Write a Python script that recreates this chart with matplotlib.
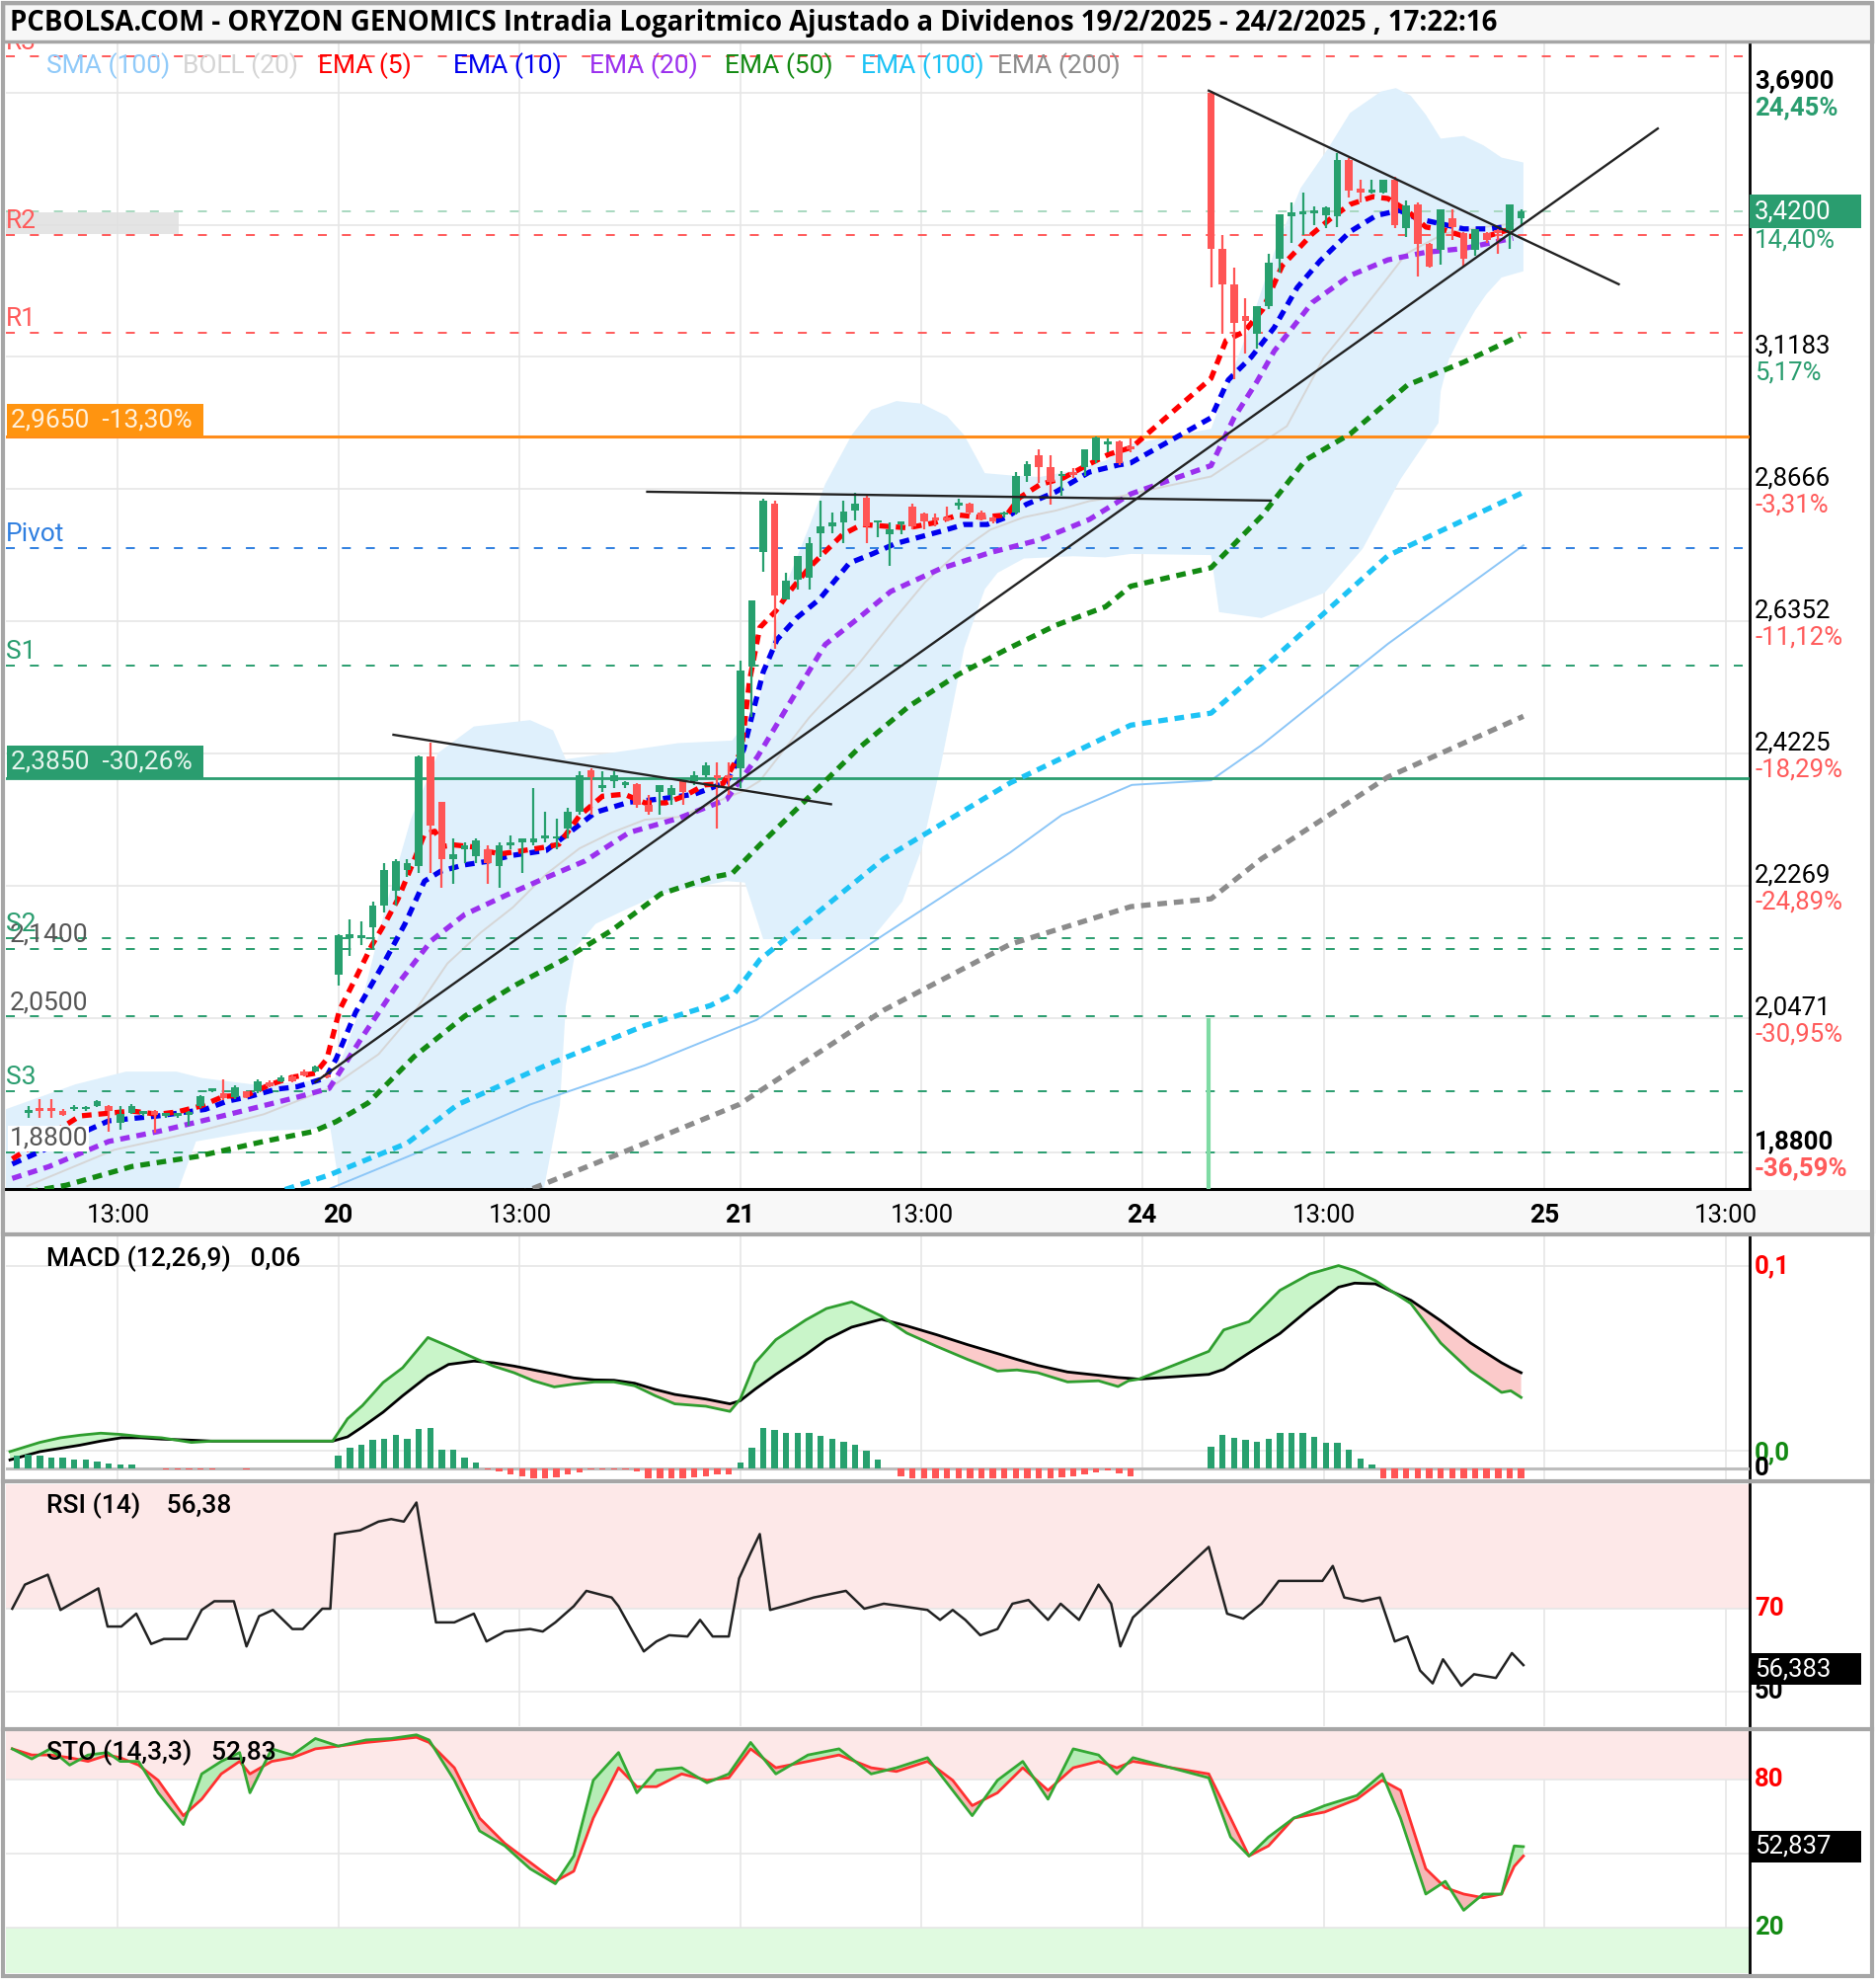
import numpy as np
import matplotlib
matplotlib.use('Agg')
import matplotlib.pyplot as plt
import matplotlib.transforms as mtransforms
from matplotlib.patches import Rectangle
from matplotlib.lines import Line2D
from matplotlib.ticker import NullLocator

plt.rcParams['font.family'] = ['Roboto', 'DejaVu Sans']
plt.rcParams['lines.scale_dashes'] = False

# x axis = 15 minute slots; day 19 opens at slot 0, 20 at 35, 21 at 70, 24 at 105
day_start = [0, 35, 70, 105, 140]
day_names = ['', '20', '21', '24', '25']

# ---------------- candles (OHLC) ----------------
k19 = list(range(8, 35))
o19 = [1.928, 1.932, 1.932, 1.930, 1.932, 1.932, 1.936, 1.936, 1.915, 1.928, 1.926, 1.930, 1.924, 1.924,
       1.925, 1.936, 1.955, 1.952, 1.947, 1.954, 1.955, 1.966, 1.967, 1.973, 1.979, 1.979, 1.976]
h19 = [1.936, 1.945, 1.945, 1.932, 1.937, 1.936, 1.943, 1.937, 1.936, 1.938, 1.929, 1.931, 1.926, 1.928,
       1.930, 1.950, 1.958, 1.969, 1.962, 1.955, 1.969, 1.968, 1.974, 1.976, 1.982, 1.987, 1.978]
l19 = [1.922, 1.922, 1.922, 1.924, 1.930, 1.930, 1.935, 1.905, 1.907, 1.926, 1.924, 1.904, 1.922, 1.922,
       1.912, 1.934, 1.953, 1.944, 1.945, 1.946, 1.952, 1.960, 1.966, 1.966, 1.973, 1.978, 1.970]
c19 = [1.930, 1.930, 1.930, 1.925, 1.935, 1.934, 1.942, 1.930, 1.926, 1.936, 1.928, 1.925, 1.925, 1.927,
       1.928, 1.948, 1.956, 1.946, 1.960, 1.947, 1.967, 1.961, 1.972, 1.967, 1.974, 1.985, 1.972]

k20 = list(range(35, 70))
o20 = [2.105, 2.155, 2.155, 2.170, 2.200, 2.220, 2.250, 2.255, 2.418, 2.350, 2.265, 2.280, 2.270, 2.280,
       2.255, 2.285, 2.290, 2.290, 2.295, 2.295, 2.310, 2.335, 2.397, 2.370, 2.380, 2.375, 2.376, 2.345,
       2.365, 2.360, 2.380, 2.380, 2.390, 2.390, 2.390]
h20 = [2.160, 2.180, 2.177, 2.205, 2.260, 2.265, 2.265, 2.420, 2.440, 2.350, 2.295, 2.290, 2.295, 2.285,
       2.290, 2.300, 2.295, 2.370, 2.335, 2.325, 2.340, 2.395, 2.400, 2.395, 2.395, 2.380, 2.378, 2.360,
       2.375, 2.375, 2.380, 2.395, 2.410, 2.410, 2.410]
l20 = [2.090, 2.130, 2.145, 2.140, 2.190, 2.200, 2.240, 2.245, 2.245, 2.225, 2.230, 2.260, 2.260, 2.230,
       2.225, 2.280, 2.245, 2.285, 2.290, 2.280, 2.295, 2.330, 2.330, 2.365, 2.370, 2.370, 2.340, 2.330,
       2.330, 2.345, 2.345, 2.375, 2.387, 2.310, 2.360]
c20 = [2.159, 2.160, 2.158, 2.200, 2.250, 2.262, 2.260, 2.418, 2.315, 2.265, 2.272, 2.285, 2.293, 2.260,
       2.285, 2.290, 2.295, 2.295, 2.300, 2.298, 2.335, 2.390, 2.387, 2.375, 2.390, 2.378, 2.345, 2.335,
       2.374, 2.370, 2.365, 2.390, 2.405, 2.385, 2.385]

k21 = list(range(70, 105))
o21 = [2.400, 2.560, 2.755, 2.840, 2.672, 2.706, 2.710, 2.787, 2.800, 2.806, 2.828, 2.852, 2.806, 2.785,
       2.803, 2.835, 2.822, 2.815, 2.815, 2.837, 2.840, 2.825, 2.815, 2.820, 2.825, 2.890, 2.930, 2.907,
       2.890, 2.895, 2.907, 2.920, 2.950, 2.955, 2.945]
h21 = [2.570, 2.670, 2.850, 2.846, 2.718, 2.748, 2.780, 2.846, 2.825, 2.846, 2.860, 2.855, 2.810, 2.807,
       2.806, 2.840, 2.825, 2.823, 2.835, 2.850, 2.842, 2.828, 2.818, 2.826, 2.898, 2.918, 2.940, 2.930,
       2.900, 2.905, 2.940, 2.965, 2.960, 2.957, 2.960]
l21 = [2.370, 2.480, 2.720, 2.590, 2.672, 2.690, 2.690, 2.745, 2.787, 2.770, 2.810, 2.770, 2.780, 2.730,
       2.785, 2.795, 2.795, 2.800, 2.808, 2.830, 2.820, 2.810, 2.805, 2.815, 2.820, 2.880, 2.878, 2.838,
       2.855, 2.888, 2.890, 2.915, 2.935, 2.910, 2.935]
c21 = [2.555, 2.670, 2.845, 2.680, 2.705, 2.747, 2.770, 2.800, 2.806, 2.827, 2.840, 2.800, 2.808, 2.795,
       2.805, 2.800, 2.808, 2.810, 2.810, 2.843, 2.825, 2.812, 2.808, 2.825, 2.890, 2.913, 2.907, 2.880,
       2.895, 2.893, 2.940, 2.962, 2.952, 2.915, 2.940]

k24 = list(range(111, 139))
o24 = [3.690, 3.340, 3.265, 3.200, 3.165, 3.220, 3.320, 3.410, 3.415, 3.416, 3.413, 3.410, 3.535, 3.470,
       3.462, 3.462, 3.490, 3.385, 3.437, 3.350, 3.338, 3.405, 3.375, 3.338, 3.375, 3.380, 3.380, 3.405]
h24 = [3.694, 3.370, 3.300, 3.237, 3.220, 3.330, 3.415, 3.440, 3.462, 3.432, 3.432, 3.550, 3.540, 3.490,
       3.490, 3.490, 3.497, 3.444, 3.440, 3.352, 3.425, 3.425, 3.377, 3.383, 3.377, 3.383, 3.437, 3.425]
l24 = [3.260, 3.165, 3.075, 3.125, 3.135, 3.215, 3.290, 3.352, 3.370, 3.390, 3.384, 3.387, 3.452, 3.440,
       3.459, 3.459, 3.384, 3.365, 3.282, 3.300, 3.307, 3.360, 3.303, 3.325, 3.352, 3.330, 3.340, 3.390]
c24 = [3.340, 3.265, 3.187, 3.190, 3.220, 3.310, 3.415, 3.418, 3.422, 3.423, 3.430, 3.535, 3.466, 3.462,
       3.468, 3.490, 3.390, 3.433, 3.350, 3.303, 3.425, 3.387, 3.320, 3.383, 3.360, 3.373, 3.437, 3.420]

# ---------------- overlays (slot, price) ----------------
ema5_k = [6.6, 12.5, 17.0, 19.3, 21.0, 23.0, 25.0, 27.1, 29.1, 31.0, 33.0, 34.0, 35.1, 36.5, 37.9, 39.1,
          40.2, 41.6, 42.5, 43.4, 44.2, 45.1, 46.8, 47.9, 49.1, 50.8, 53.1, 54.2, 56.0, 58.0, 59.9, 61.7,
          63.5, 65.1, 66.9, 68.5, 70.1, 70.8, 71.7, 73.1, 74.3, 76.0, 77.4, 78.9, 80.6, 82.6, 84.6, 86.9,
          89.0, 90.9, 93.2, 94.3, 96.1, 98.1, 100.4, 102.1, 104.1, 111.0, 112.3, 113.9, 115.5, 117.2, 118.5,
          119.8, 121.5, 123.1, 125.1, 126.4, 128.1, 129.7, 131.4, 133.0, 135.0, 137.3]
ema5 = [1.872, 1.924, 1.930, 1.926, 1.929, 1.936, 1.948, 1.950, 1.963, 1.972, 1.977, 1.995, 2.058, 2.100,
        2.144, 2.176, 2.209, 2.264, 2.302, 2.306, 2.284, 2.286, 2.283, 2.277, 2.273, 2.277, 2.283, 2.287,
        2.329, 2.358, 2.361, 2.348, 2.348, 2.358, 2.375, 2.377, 2.427, 2.537, 2.625, 2.653, 2.686, 2.727,
        2.755, 2.785, 2.803, 2.800, 2.797, 2.806, 2.820, 2.816, 2.820, 2.851, 2.875, 2.887, 2.913, 2.931,
        2.944, 3.076, 3.151, 3.169, 3.214, 3.305, 3.338, 3.372, 3.407, 3.436, 3.453, 3.449, 3.422, 3.387,
        3.380, 3.367, 3.367, 3.384]
ema10_k = [6.6, 15.0, 19.3, 23.4, 25.3, 27.3, 29.6, 31.4, 33.9, 34.8, 36.5, 38.8, 40.8, 42.5, 43.9, 45.9,
           47.9, 50.2, 53.1, 54.8, 57.4, 60.3, 63.1, 66.0, 68.8, 70.3, 71.0, 72.0, 73.2, 74.9, 76.9, 79.5,
           81.5, 83.5, 85.5, 87.5, 89.5, 91.5, 93.2, 94.9, 97.5, 100.4, 102.9, 104.0, 111.0, 112.5, 114.5,
           116.5, 118.5, 120.5, 123.1, 125.4, 127.4, 129.0, 131.0, 133.0, 135.3, 137.3]
ema10 = [1.866, 1.918, 1.924, 1.932, 1.942, 1.948, 1.957, 1.960, 1.971, 1.995, 2.055, 2.116, 2.174, 2.234,
         2.248, 2.257, 2.262, 2.271, 2.278, 2.300, 2.334, 2.349, 2.354, 2.361, 2.379, 2.429, 2.480, 2.552,
         2.605, 2.641, 2.673, 2.735, 2.751, 2.769, 2.780, 2.791, 2.803, 2.803, 2.816, 2.839, 2.862, 2.898,
         2.911, 2.915, 3.000, 3.073, 3.118, 3.177, 3.259, 3.315, 3.377, 3.412, 3.423, 3.405, 3.394, 3.383,
         3.383, 3.390]
ema20_k = [6.6, 9.8, 15.0, 19.3, 25.5, 31.4, 34.2, 37.3, 40.2, 43.1, 46.0, 49.6, 53.1, 56.5, 60.3, 64.6,
           68.8, 71.5, 74.6, 77.4, 80.3, 83.1, 87.4, 91.7, 96.1, 100.4, 104.0, 111.0, 113.0, 115.0, 116.5,
           119.8, 123.1, 126.4, 129.7, 133.0, 137.3]
ema20 = [1.849, 1.863, 1.893, 1.905, 1.926, 1.947, 1.958, 2.028, 2.093, 2.151, 2.187, 2.214, 2.239, 2.263,
         2.304, 2.325, 2.353, 2.418, 2.511, 2.597, 2.641, 2.686, 2.725, 2.753, 2.776, 2.812, 2.858, 2.910,
         3.000, 3.070, 3.130, 3.228, 3.284, 3.317, 3.333, 3.341, 3.363]
ema50_k = [6.6, 11.3, 17.0, 22.7, 28.5, 32.8, 34.8, 37.6, 41.6, 46.0, 50.3, 54.6, 58.8, 63.1, 67.4, 69.3,
           71.7, 76.0, 80.3, 84.7, 89.0, 93.2, 97.5, 101.8, 104.0, 111.0, 115.4, 119.2, 123.1, 128.1, 133.0,
           137.9]
ema50 = [1.830, 1.841, 1.863, 1.875, 1.893, 1.905, 1.917, 1.940, 1.998, 2.050, 2.090, 2.125, 2.165, 2.216,
         2.239, 2.245, 2.286, 2.357, 2.431, 2.497, 2.548, 2.589, 2.629, 2.660, 2.695, 2.727, 2.818, 2.920,
         2.969, 3.063, 3.108, 3.161]
ema100_k = [29.0, 34.2, 41.0, 45.4, 53.1, 61.7, 67.4, 69.5, 71.7, 82.5, 93.5, 104.0, 111.0, 115.4, 126.4, 138.2]
ema100 = [1.830, 1.853, 1.891, 1.938, 1.987, 2.038, 2.064, 2.080, 2.125, 2.266, 2.378, 2.467, 2.486, 2.556,
          2.748, 2.861]
ema200_k = [50.6, 60.5, 69.9, 82.5, 93.5, 104.0, 111.0, 115.4, 126.4, 138.2]
ema200 = [1.830, 1.884, 1.938, 2.058, 2.146, 2.198, 2.209, 2.266, 2.387, 2.481]
sma100_k = [33.0, 41.6, 51.7, 61.7, 71.4, 82.5, 93.5, 98.0, 104.1, 111.0, 115.4, 126.4, 138.2]
sma100 = [1.830, 1.878, 1.938, 1.987, 2.045, 2.159, 2.275, 2.330, 2.375, 2.382, 2.436, 2.598, 2.766]

bb_mid_k = [7.9, 15.5, 22.7, 28.5, 34.2, 38.5, 41.6, 44.5, 47.4, 50.2, 53.1, 56.0, 58.8, 61.7, 64.6, 67.4,
            70.3, 71.7, 76.0, 80.3, 83.5, 86.1, 88.9, 91.8, 94.7, 97.5, 100.4, 103.2, 104.0, 111.0, 117.6,
            120.8, 123.1, 126.4, 128.0, 131.3, 134.7, 137.3]
bb_mid = [1.840, 1.883, 1.905, 1.926, 1.958, 2.001, 2.055, 2.120, 2.162, 2.197, 2.244, 2.281, 2.304, 2.323,
          2.327, 2.346, 2.366, 2.381, 2.479, 2.565, 2.641, 2.702, 2.753, 2.794, 2.816, 2.828, 2.845, 2.854,
          2.858, 2.890, 2.984, 3.116, 3.181, 3.280, 3.330, 3.373, 3.387, 3.394]
bb_up_k = [6.0, 12.1, 16.5, 20.9, 23.1, 27.5, 31.9, 34.7, 36.9, 39.1, 41.3, 43.7, 46.8, 51.7, 53.7, 54.8,
           58.8, 64.6, 69.3, 71.5, 73.7, 75.9, 77.4, 79.7, 81.4, 83.6, 85.8, 88.0, 89.5, 91.3, 93.5, 96.1,
           99.0, 101.8, 104.0, 111.0, 114.3, 116.5, 118.8, 121.2, 123.1, 125.8, 127.1, 128.4, 129.7, 131.0,
           133.0, 134.7, 136.3, 138.2]
bb_up = [1.932, 1.963, 1.979, 1.979, 1.971, 1.963, 1.966, 1.971, 2.060, 2.196, 2.323, 2.424, 2.465, 2.475,
         2.459, 2.414, 2.424, 2.439, 2.443, 2.497, 2.684, 2.794, 2.876, 2.967, 3.015, 3.032, 3.027, 3.003,
         2.967, 2.896, 2.892, 2.889, 2.901, 2.919, 2.950, 2.979, 3.176, 3.333, 3.472, 3.561, 3.642, 3.692,
         3.700, 3.682, 3.638, 3.583, 3.589, 3.568, 3.540, 3.529]
bb_lo_k = [6.0, 20.9, 22.6, 27.5, 34.3, 35.2, 52.8, 54.3, 54.8, 55.7, 57.4, 60.3, 63.1, 66.0, 68.8, 70.4,
           72.0, 81.4, 84.1, 85.8, 87.5, 89.5, 90.4, 91.3, 92.4, 94.7, 99.0, 101.8, 104.0, 111.0, 111.7,
           115.4, 120.9, 124.2, 127.5, 130.8, 131.0, 131.7, 132.7, 134.0, 135.0, 136.3, 138.2]
bb_lo = [1.830, 1.830, 1.893, 1.905, 1.909, 1.830, 1.830, 1.938, 2.063, 2.142, 2.174, 2.196, 2.216, 2.225,
         2.234, 2.232, 2.153, 2.153, 2.205, 2.280, 2.408, 2.591, 2.641, 2.690, 2.718, 2.743, 2.747, 2.745,
         2.751, 2.749, 2.651, 2.641, 2.684, 2.760, 2.885, 2.990, 3.051, 3.113, 3.159, 3.212, 3.246, 3.280,
         3.293]

# drawn trend lines: (slot_a, slot_b), (price_a, price_b)
trend_k = [(33.0, 149.9), (110.8, 146.5), (61.9, 116.2), (39.8, 77.9)]
trend_p = [(1.966, 3.606), (3.694, 3.266), (2.862, 2.846), (2.452, 2.346)]

# pivot levels
lvl_names = ['R3', 'R2', 'R1', 'Pivot', 'S1', 'S2', 'S3']
lvl_values = [3.775, 3.370, 3.167, 2.761, 2.562, 2.154, 1.955]
lvl_colors = ['#ff5a5a', '#ff5a5a', '#ff5a5a', '#2f7fe0', '#2a9d6f', '#2a9d6f', '#2a9d6f']
alert_values = [2.14, 2.05, 1.88]
last_price = 3.42
ref_price = 2.965
support_price = 2.385

grid_prices = [3.69, 3.392, 3.1183, 2.8666, 2.6352, 2.4225, 2.2269, 2.0471, 1.88]
grid_pcts = [24.45, 14.40, 5.17, -3.31, -11.12, -18.29, -24.89, -30.95, -36.59]

# ---------------- MACD ----------------
macd_k = [6.4, 9.0, 10.8, 12.5, 14.3, 16.1, 17.8, 19.6, 22.2, 24.0, 34.5, 35.8, 37.1, 38.9, 40.6, 42.8,
          44.6, 46.8, 48.5, 50.3, 52.0, 53.8, 55.5, 57.3, 59.0, 60.8, 62.6, 64.3, 67.0, 69.1, 70.0, 71.3,
          73.1, 75.7, 77.5, 79.7, 82.3, 84.5, 87.1, 89.8, 92.4, 94.1, 95.9, 98.5, 101.2, 102.9, 103.8, 104.7,
          110.8, 112.1, 114.3, 117.0, 119.6, 122.1, 123.5, 125.3, 128.4, 131.0, 133.6, 136.3, 137.1, 138.0]
macd = [-0.0005, 0.0045, 0.0070, 0.0084, 0.0095, 0.0088, 0.0077, 0.0070, 0.0045, 0.0052,
        0.0052, 0.0173, 0.0245, 0.0370, 0.0450, 0.0614, 0.0566, 0.0504, 0.0459, 0.0423,
        0.0379, 0.0346, 0.0361, 0.0373, 0.0373, 0.0352, 0.0298, 0.0254, 0.0241, 0.0213,
        0.0280, 0.0477, 0.0602, 0.0709, 0.0771, 0.0807, 0.0730, 0.0638, 0.0566, 0.0495,
        0.0432, 0.0438, 0.0423, 0.0373, 0.0379, 0.0348, 0.0379, 0.0388, 0.0539, 0.0655,
        0.0700, 0.0870, 0.0959, 0.1004, 0.0977, 0.0923, 0.0798, 0.0584, 0.0432, 0.0316,
        0.0325, 0.0289]
signal = [-0.0050, -0.0005, 0.0013, 0.0030, 0.0052, 0.0070, 0.0070, 0.0063, 0.0057, 0.0052,
          0.0052, 0.0075, 0.0129, 0.0209, 0.0298, 0.0405, 0.0468, 0.0486, 0.0477, 0.0459,
          0.0438, 0.0416, 0.0395, 0.0384, 0.0382, 0.0366, 0.0332, 0.0305, 0.0280, 0.0254,
          0.0271, 0.0334, 0.0414, 0.0521, 0.0602, 0.0670, 0.0713, 0.0677, 0.0629, 0.0575,
          0.0527, 0.0495, 0.0463, 0.0427, 0.0409, 0.0397, 0.0393, 0.0388, 0.0414, 0.0441,
          0.0530, 0.0636, 0.0771, 0.0887, 0.0909, 0.0905, 0.0816, 0.0705, 0.0584, 0.0477,
          0.0450, 0.0423]
hist_k = (list(range(7, 18)) + [20, 21, 22, 23, 24, 27] + list(range(35, 70)) + list(range(70, 105))
          + list(range(111, 139)))
hist = ([0.0057, 0.0063, 0.0057, 0.0048, 0.0048, 0.0037, 0.0037, 0.0030, 0.0019, 0.0015, 0.0015]
        + [-0.0005] * 6
        + [0.0057, 0.0092, 0.0104, 0.0126, 0.0134, 0.0149, 0.0134, 0.0179, 0.0182, 0.0082, 0.0082, 0.0048, 0.0027]
        + [-0.0007, -0.0015, -0.0027, -0.0037, -0.0045, -0.0045, -0.0042, -0.0030, -0.0018, -0.0007, -0.0006,
           -0.0006, -0.0006, -0.0015, -0.0045, -0.0048, -0.0048, -0.0045, -0.0042, -0.0037, -0.0030, -0.0030]
        + [0.0027, 0.0092, 0.0182, 0.0171, 0.0160, 0.0158, 0.0158, 0.0146, 0.0131, 0.0119, 0.0104, 0.0077, 0.0037]
        + [-0.0003, -0.0037] + [-0.0045] * 13 + [-0.0042, -0.0037, -0.0027, -0.0018, -0.0012, -0.0022, -0.0037]
        + [0.0097, 0.0149, 0.0137, 0.0126, 0.0119, 0.0131, 0.0161, 0.0161, 0.0161, 0.0141, 0.0116, 0.0116,
           0.0082, 0.0045, 0.0015]
        + [-0.0047] * 13)

# ---------------- RSI ----------------
rsi_k = [6.6, 7.7, 9.7, 10.8, 12.1, 14.1, 14.9, 16.1, 17.4, 18.7, 19.8, 21.8, 23.1, 24.2, 25.9, 27.0, 28.1,
         29.3, 31.0, 31.9, 33.6, 34.3, 34.7, 36.9, 38.5, 39.6, 40.7, 41.8, 43.5, 45.1, 46.8, 47.9, 49.5, 51.7,
         52.8, 53.9, 55.5, 56.6, 58.8, 59.4, 60.5, 61.6, 62.7, 63.8, 65.4, 66.5, 67.6, 69.0, 69.9, 70.9, 71.7,
         72.6, 74.2, 76.4, 79.2, 80.8, 82.5, 84.1, 86.3, 87.4, 88.5, 89.6, 90.9, 92.4, 93.7, 95.1, 96.8, 97.9,
         99.5, 101.2, 102.3, 103.1, 104.2, 110.8, 112.4, 113.8, 115.4, 116.9, 119.3, 120.7, 121.6, 122.6,
         124.2, 125.7, 127.0, 128.1, 129.2, 130.3, 131.2, 132.8, 133.9, 135.8, 137.2, 138.2]
rsi = [70.0, 75.8, 78.2, 69.7, 71.8, 74.9, 65.7, 65.7, 68.8, 61.5, 62.7, 62.7, 69.7, 71.8, 71.8, 60.9, 68.2,
       69.7, 65.1, 65.1, 70.0, 70.0, 88.0, 88.9, 91.0, 91.6, 91.0, 95.6, 66.7, 66.7, 68.8, 62.1, 64.5, 65.1,
       64.5, 66.7, 70.6, 74.3, 72.7, 70.6, 65.1, 59.7, 62.1, 63.6, 63.3, 67.3, 63.3, 63.3, 77.3, 83.4, 88.0,
       69.7, 70.9, 72.7, 74.3, 70.0, 71.2, 70.6, 69.7, 67.3, 69.7, 67.3, 63.6, 65.1, 71.2, 72.1, 67.3, 71.2,
       67.3, 75.8, 71.2, 60.9, 67.9, 84.9, 68.8, 67.6, 71.2, 76.7, 76.7, 76.7, 80.3, 72.7, 71.8, 72.7, 62.1,
       63.3, 55.1, 52.0, 57.8, 51.4, 54.2, 53.3, 59.3, 56.4]

# ---------------- Stochastic ----------------
sto_x = [6.6, 8.3, 9.9, 11.6, 13.2, 14.9, 16.0, 17.6, 19.3, 21.5, 23.1, 24.8, 26.4, 27.3, 29.2, 31.0, 33.0,
         35.0, 37.4, 39.6, 41.8, 42.9, 45.1, 47.3, 49.5, 51.7, 53.9, 55.5, 57.2, 59.4, 61.0, 62.7, 64.9, 67.1,
         69.0, 70.9, 73.1, 75.9, 78.6, 81.4, 83.6, 86.3, 88.5, 90.2, 92.4, 94.6, 96.8, 99.0, 101.2, 102.8,
         104.2, 110.8, 112.7, 114.3, 116.0, 118.2, 120.9, 123.7, 125.9, 127.5, 129.7, 131.4, 133.0, 134.7,
         136.3, 137.4, 138.2]
sto_k = [92.6, 88.5, 92.6, 86.0, 90.1, 91.1, 87.5, 87.5, 74.7, 61.8, 82.4, 87.5, 91.1, 74.7, 92.6, 90.1,
         96.8, 93.7, 96.2, 96.8, 98.3, 96.2, 79.8, 59.2, 53.1, 43.8, 37.7, 49.0, 79.8, 91.1, 74.7, 83.9, 84.9,
         78.8, 82.4, 95.2, 82.4, 90.1, 92.6, 82.4, 84.9, 89.0, 75.7, 65.4, 79.8, 87.5, 72.1, 92.6, 90.1, 82.4,
         89.0, 80.8, 56.7, 49.0, 56.7, 64.4, 69.5, 73.6, 82.4, 64.4, 33.5, 38.7, 26.9, 33.5, 33.5, 53.1, 52.8]
sto_d = [92.6, 90.1, 90.1, 89.0, 87.5, 90.1, 89.0, 86.0, 79.8, 65.4, 72.1, 82.4, 87.5, 82.4, 87.5, 89.0,
         92.6, 93.7, 95.2, 96.2, 97.3, 95.2, 84.9, 64.4, 54.1, 46.4, 38.7, 42.8, 64.4, 84.9, 77.2, 77.2, 82.4,
         79.8, 80.8, 92.6, 84.9, 87.5, 90.1, 84.9, 83.4, 87.5, 79.8, 69.5, 74.7, 84.9, 75.7, 84.9, 87.5, 84.9,
         87.5, 82.4, 64.4, 49.0, 53.1, 64.4, 66.9, 72.1, 79.8, 75.7, 43.8, 36.1, 33.5, 32.0, 33.5, 44.8, 49.0]

UP, DN = '#27a06e', '#ff5555'
GRID = '#e6e6e6'

W, H = 1900, 2005
fig = plt.figure(figsize=(W / 100, H / 100), dpi=100)


def px_axes(x0, y0, x1, y1):
    return fig.add_axes([x0 / W, 1 - y1 / H, (x1 - x0) / W, (y1 - y0) / H])


XL, XR = 6, 1772
MAIN_TOP, MAIN_BOT = 43, 1204
ax = px_axes(XL, MAIN_TOP, XR, MAIN_BOT)
ax_macd = px_axes(XL, 1252, XR, 1498)
ax_rsi = px_axes(XL, 1503, XR, 1748)
ax_sto = px_axes(XL, 1753, XR, 1998)

xlo, xhi = 6.05, 157.9
tick_pos = []
for d in day_start:
    tick_pos += [d, d + 15.8]

for a in (ax, ax_macd, ax_rsi, ax_sto):
    a.set_xlim(xlo, xhi)
    a.set_xticks([])
    a.set_yticks([])
    for s in ('top', 'left', 'bottom'):
        a.spines[s].set_visible(False)
    a.spines['right'].set_color('black')
    a.spines['right'].set_linewidth(2)
    for t in tick_pos:
        if xlo < t < xhi:
            a.axvline(t, color=GRID, lw=1.2, zorder=0)

# ---------------- main price panel ----------------
ax.set_yscale('log')
ax.set_ylim(1.8366, 3.809)
ax.yaxis.set_minor_locator(NullLocator())
ax.yaxis.set_major_locator(NullLocator())
ax.spines['bottom'].set_visible(True)
ax.spines['bottom'].set_color('black')
ax.spines['bottom'].set_linewidth(2.2)

for g in grid_prices:
    ax.axhline(g, color=GRID, lw=1.2, zorder=0)

# bollinger band
ax.fill(np.r_[bb_up_k, bb_lo_k[::-1]], np.r_[bb_up, bb_lo[::-1]], color='#dff0fc', lw=0, zorder=1)
ax.plot(bb_mid_k, bb_mid, color='#d6d6d6', lw=1.4, zorder=2)
ax.plot(sma100_k, sma100, color='#8cc6f7', lw=1.4, zorder=2)

lbl_tr = mtransforms.offset_copy(mtransforms.blended_transform_factory(ax.transAxes, ax.transData),
                                 fig=fig, x=0, y=2, units='dots')

# levels
dash_lvl = (6.5, 11)
for name, v, col in zip(lvl_names, lvl_values, lvl_colors):
    ax.axhline(v, color=col, lw=1.4, dashes=dash_lvl, zorder=3)
    ax.text(0.0, v, name, color=col, fontsize=19, transform=lbl_tr,
            va='bottom', ha='left', zorder=9, clip_on=True)
for v in alert_values:
    ax.axhline(v, color='#2a9d6f', lw=1.4, dashes=dash_lvl, zorder=3)
    ax.text(0.002, v, f'{v:.4f}'.replace('.', ','), color='#555555', fontsize=19, transform=lbl_tr,
            va='bottom', ha='left', zorder=8,
            bbox=dict(fc='white', ec='none', pad=1) if v == 1.88 else None)
ax.axhline(last_price, color='#a8d8c0', lw=1.4, dashes=dash_lvl, zorder=3)
ax.axhline(ref_price, color='#ff8c1a', lw=2.2, zorder=3)
ax.axhline(support_price, color='#2a9d6f', lw=2.0, zorder=3)

# EMAs
for kk, vv, col in [(ema200_k, ema200, '#8c8c8c'), (ema100_k, ema100, '#1ec3f5'),
                    (ema50_k, ema50, '#138a13'), (ema20_k, ema20, '#9b30ee'),
                    (ema10_k, ema10, '#0000ee'), (ema5_k, ema5, '#ff0000')]:
    ax.plot(kk, vv, color=col, lw=3.8, dashes=(7, 5), zorder=4)

# candles
ck = np.array(k19 + k20 + k21 + k24)
co = np.array(o19 + o20 + o21 + o24)
ch = np.array(h19 + h20 + h21 + h24)
cl = np.array(l19 + l20 + l21 + l24)
cc = np.array(c19 + c20 + c21 + c24)
cols = np.where(cc >= co, UP, DN)
ax.vlines(ck, cl, ch, colors=cols, lw=1.6, zorder=5)
lo = np.minimum(co, cc)
hi = np.maximum(np.maximum(co, cc), lo * 1.0018)
ax.bar(ck, hi - lo, bottom=lo, width=0.66, color=cols, lw=0, zorder=6)

# vertical marker
ax.vlines(110.8, 1.83, 2.047, color='#7fdba4', lw=3, zorder=5)

# trend lines
for kk, pp in zip(trend_k, trend_p):
    ax.plot(kk, pp, color='#222222', lw=1.7, zorder=8)

# light gray tag near R2
ax.add_patch(Rectangle((0, 3.371), 0.099, 0.048,
                       transform=mtransforms.blended_transform_factory(ax.transAxes, ax.transData),
                       fc='#e0e0e0', ec='none', alpha=0.85, zorder=3))

fig.canvas.draw()


def y_px(a, v):
    # pixel row from the top for value v on axes a
    return H - a.transData.transform((xlo, v))[1]


def box(x0, y0, x1, y1, fc, txt, tx, tc, fs=17, weight='normal'):
    fig.add_artist(Rectangle((x0 / W, 1 - y1 / H), (x1 - x0) / W, (y1 - y0) / H,
                             transform=fig.transFigure, fc=fc, ec='none', zorder=20))
    fig.text(tx / W, 1 - (y0 + y1) / 2 / H, txt, color=tc, fontsize=fs, fontweight=weight,
             va='center', ha='left', zorder=21)


# left price tags
yr = y_px(ax, ref_price)
box(XL + 1, yr - 33, 206, yr, '#ff9410', '2,9650  -13,30%', 11, '#fff1dc', fs=19)
ys = y_px(ax, support_price)
box(XL + 1, ys - 33, 206, ys, '#2a9d6f', '2,3850  -30,26%', 11, '#e6f5ee', fs=19)

# right axis labels
for i, (g, pc) in enumerate(zip(grid_prices, grid_pcts)):
    yy = y_px(ax, g)
    wt = 'bold' if i in (0, len(grid_prices) - 1) else 'normal'
    fig.text(1777 / W, 1 - (yy - 4) / H, f'{g:.4f}'.replace('.', ','), fontsize=18.5, fontweight=wt,
             color='black', va='baseline', ha='left')
    fig.text(1777 / W, 1 - (yy + 4) / H, f'{pc:.2f}%'.replace('.', ','), fontsize=18.5, fontweight=wt,
             color='#2a9d6f' if pc >= 0 else '#ff5a5a', va='top', ha='left')
yl = y_px(ax, last_price)
box(1772, yl - 17, 1885, yl + 17, '#2a9d6f', '3,4200', 1777, 'white', fs=18.5)

# x labels
xt = mtransforms.blended_transform_factory(ax.transData, fig.transFigure)
for d, nm in zip(day_start, day_names):
    if nm and xlo < d < xhi:
        fig.text(d, 1 - 1231 / H, nm, transform=xt, fontsize=19, fontweight='bold', ha='center', va='center')
    if xlo < d + 15.8 < xhi:
        fig.text(d + 15.8, 1 - 1231 / H, '13:00', transform=xt, fontsize=18.5, ha='center', va='center')

# ---------------- MACD ----------------
ax_macd.set_ylim(-0.01554, 0.11625)
ax_macd.axhline(0.1, color=GRID, lw=1.2, zorder=0)
ax_macd.axhline(0.0, color=GRID, lw=1.2, zorder=0)
mk, mv, sv = np.array(macd_k), np.array(macd), np.array(signal)
ax_macd.fill_between(mk, mv, sv, where=mv >= sv, interpolate=True, color='#c9f5c9', lw=0, zorder=1)
ax_macd.fill_between(mk, mv, sv, where=mv < sv, interpolate=True, color='#fbcaca', lw=0, zorder=1)
ax_macd.plot(mk, sv, color='black', lw=2, zorder=3)
ax_macd.plot(mk, mv, color='#2f9e2f', lw=2, zorder=3)
ax_h = ax_macd.twinx()
ax_h.set_ylim(-0.00504, 0.10478)
ax_h.set_xlim(xlo, xhi)
ax_h.set_yticks([])
for s in ('top', 'left', 'bottom', 'right'):
    ax_h.spines[s].set_visible(False)
hv = np.array(hist)
ax_h.axhline(0, color='#bdbdbd', lw=2.2, zorder=1)
ax_h.bar(hist_k, hv, width=0.55, color=np.where(hv >= 0, UP, DN), lw=0, zorder=2)

# ---------------- RSI ----------------
ax_rsi.set_ylim(41.67, 100)
ax_rsi.axhspan(70, 100, color='#fde8e8', lw=0, zorder=0)
ax_rsi.axhline(70, color=GRID, lw=1.2, zorder=0)
ax_rsi.axhline(50, color=GRID, lw=1.2, zorder=0)
ax_rsi.plot(rsi_k, rsi, color='#222222', lw=1.8, zorder=3)

# ---------------- STO ----------------
ax_sto.set_ylim(1.34, 99.8)
ax_sto.axhspan(80, 100, color='#fde8e8', lw=0, zorder=0)
ax_sto.axhspan(0, 20, color='#e0fae0', lw=0, zorder=0)
for v in (80, 50, 20):
    ax_sto.axhline(v, color=GRID, lw=1.2, zorder=0)
sx, skv, sdv = np.array(sto_x), np.array(sto_k), np.array(sto_d)
ax_sto.fill_between(sx, skv, sdv, where=skv >= sdv, interpolate=True, color='#b6ecb6', lw=0, zorder=1)
ax_sto.fill_between(sx, skv, sdv, where=skv < sdv, interpolate=True, color='#f6b6b6', lw=0, zorder=1)
ax_sto.plot(sx, sdv, color='#ff3030', lw=2, zorder=3)
ax_sto.plot(sx, skv, color='#33a833', lw=2, zorder=3)

fig.canvas.draw()

# panel right labels
for a, v, txt, col in [(ax_macd, 0.1, '0,1', '#ff0000'), (ax_macd, 0.0, '0,0', '#138a13'),
                       (ax_h, 0.0, '0', 'black'), (ax_rsi, 70, '70', '#ff0000'), (ax_rsi, 50, '50', 'black'),
                       (ax_sto, 80, '80', '#ff0000'), (ax_sto, 20, '20', '#138a13')]:
    yy = H - a.transData.transform((xlo, v))[1]
    off = 2 if txt == '0,0' else 0
    fig.text(1777 / W, 1 - (yy + off) / H, txt, color=col, fontsize=18.5, fontweight='bold',
             va='center', ha='left')

yy = y_px(ax_rsi, 56.383) + 4
box(1772, yy - 16, 1885, yy + 16, 'black', '56,383', 1777, 'white', fs=18.5)
yy = y_px(ax_sto, 52.837)
box(1772, yy - 16, 1885, yy + 16, 'black', '52,837', 1777, 'white', fs=18.5)

fig.text(47 / W, 1 - 1275 / H, 'MACD (12,26,9)   0,06', fontsize=19, fontweight='medium', va='center')
fig.text(47 / W, 1 - 1525 / H, 'RSI (14)    56,38', fontsize=19, fontweight='medium', va='center')
fig.text(47 / W, 1 - 1775 / H, 'STO (14,3,3)   52,83', fontsize=19, fontweight='medium', va='center')

# ---------------- frame, title, legend ----------------
fig.add_artist(Rectangle((0, 1 - 1249 / H), 1, (1249 - 1205) / H, transform=fig.transFigure,
                         fc='#f8f8f8', ec='none', zorder=-5))
for yy in (1250, 1500, 1751):
    fig.add_artist(Line2D([3 / W, 1896 / W], [1 - yy / H, 1 - yy / H], transform=fig.transFigure,
                          color='#a6a6a6', lw=3, zorder=30))
fig.add_artist(Rectangle((3 / W, 1 - 42 / H), 1893 / W, 39 / H, transform=fig.transFigure,
                         fc='#f7f7f7', ec='#a6a6a6', lw=2.5, zorder=25))
fig.add_artist(Rectangle((3 / W, 1 - 2001 / H), 1893 / W, 1998 / H, transform=fig.transFigure,
                         fill=False, ec='#a6a6a6', lw=3, zorder=30))

title = ('PCBOLSA.COM - ORYZON GENOMICS Intradia Logaritmico Ajustado a Dividenos '
         '19/2/2025 - 24/2/2025 , 17:22:16')
tt = fig.text(10 / W, 1 - 23 / H, title, fontsize=18, fontweight='bold',
              family=['Open Sans', 'DejaVu Sans'], va='center', ha='left', zorder=26)
fig.canvas.draw()
wpx = tt.get_window_extent().width
tt.set_fontsize(18 * 1504 / wpx)

legend_names = ['SMA (100)', 'BOLL (20)', 'EMA (5)', 'EMA (10)', 'EMA (20)', 'EMA (50)', 'EMA (100)', 'EMA (200)']
legend_cols = ['#90caf9', '#d4d4d4', '#ff0000', '#0000ee', '#9b30ee', '#138a13', '#1ec3f5', '#8c8c8c']
legend_x = [47, 185, 322, 459, 597, 734, 872, 1010]
for nm, col, lx in zip(legend_names, legend_cols, legend_x):
    fig.text(lx / W, 1 - 67 / H, nm, color=col, fontsize=19, va='center', ha='left', zorder=22)

fig.savefig('out.png', dpi=100)
